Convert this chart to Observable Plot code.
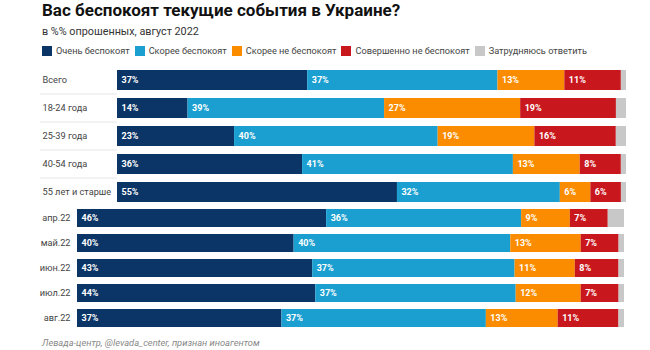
<!DOCTYPE html>
<html>
<head>
<meta charset="utf-8">
<script src="https://cdn.jsdelivr.net/npm/d3@7"></script>
<script src="https://cdn.jsdelivr.net/npm/@observablehq/plot@0.6"></script>
<style>
  html, body { margin: 0; padding: 0; background: #fff; }
  body { width: 650px; height: 350px; position: relative; overflow: hidden; font-family: Roboto, sans-serif; }
  #title { position: absolute; left: 42px; top: 0px; line-height: 20px; font-size: 17px; font-weight: 700; color: #111; white-space: nowrap; }
  #subtitle { position: absolute; left: 42px; top: 25px; line-height: 14px; font-size: 10.8px; color: #333; white-space: nowrap; }
  #legend { position: absolute; left: 42px; top: 45px; line-height: 12px; font-size: 9.2px; color: #444; white-space: nowrap; display: flex; }
  #legend .item { display: flex; align-items: center; margin-right: 5px; }
  #legend .sw { width: 10px; height: 10px; margin-right: 4px; display: inline-block; }
  #top { position: absolute; left: 0; top: 64px; }
  #bottom { position: absolute; left: 0; top: 205px; }
  #caption { position: absolute; left: 42px; top: 337px; line-height: 12px; font-size: 9.3px; font-style: italic; color: #888; white-space: nowrap; }
</style>
</head>
<body>
<div id="title">Вас беспокоят текущие события в Украине?</div>
<div id="subtitle">в %% опрошенных, август 2022</div>
<div id="legend"></div>
<div id="top"></div>
<div id="bottom"></div>
<div id="caption">Левада-центр, @levada_center, признан иноагентом</div>
<script>
const categories = ["Очень беспокоят", "Скорее беспокоят", "Скорее не беспокоят", "Совершенно не беспокоят", "Затрудняюсь ответить"];
const colors = ["#0b3566", "#1b9fd0", "#fb8c00", "#c8181e", "#c8c8c8"];

const groups = ["Всего", "18-24 года", "25-39 года", "40-54 года", "55 лет и старше"];
const groupVery     = [37, 14, 23, 36, 55];
const groupRather   = [37, 39, 40, 41, 32];
const groupRatherNot= [13, 27, 19, 13, 6];
const groupNotAtAll = [11, 19, 16, 8, 6];
const groupDontKnow = [1, 2, 2, 1, 1];

const months = ["апр.22", "май.22", "июн.22", "июл.22", "авг.22"];
const monthVery     = [46, 40, 43, 44, 37];
const monthRather   = [36, 40, 37, 37, 37];
const monthRatherNot= [9, 13, 11, 12, 13];
const monthNotAtAll = [7, 7, 8, 7, 11];
const monthDontKnow = [3, 1, 1, 1, 1];

function toRows(rows, series) {
  const out = [];
  rows.forEach((r, i) => {
    series.forEach((s, j) => out.push({ row: r, cat: categories[j], value: s[i] }));
  });
  return out;
}
const topData = toRows(groups, [groupVery, groupRather, groupRatherNot, groupNotAtAll, groupDontKnow]);
const botData = toRows(months, [monthVery, monthRather, monthRatherNot, monthNotAtAll, monthDontKnow]);

// legend
const leg = document.getElementById("legend");
categories.forEach((c, i) => {
  const it = document.createElement("span");
  it.className = "item";
  it.innerHTML = `<span class="sw" style="background:${colors[i]}"></span>${c}`;
  leg.appendChild(it);
});

const color = { domain: categories, range: colors };
const labelText = d => d.cat === categories[4] ? "" : d.value + "%";

function barMarks(data) {
  return [
    Plot.barX(data, Plot.stackX({ x: "value", y: "row", z: "cat", fill: "cat", order: categories, offset: "normalize" })),
    Plot.text(data, Plot.stackX1({ x: "value", y: "row", z: "cat", order: categories, offset: "normalize",
      text: labelText, textAnchor: "start", dx: 4, fill: "white", fontWeight: 700, fontSize: 9 }))
  ];
}

const topPlot = Plot.plot({
  width: 650, height: 144,
  marginLeft: 117, marginRight: 24, marginTop: 0, marginBottom: 0,
  style: { fontFamily: "Roboto, sans-serif", overflow: "visible" },
  x: { domain: [0, 1], axis: null },
  y: { domain: groups, axis: null, paddingInner: 0.3, paddingOuter: 0.15 },
  color,
  marks: [
    ...barMarks(topData),
    Plot.text(groups, { y: d => d, text: d => d, frameAnchor: "left", textAnchor: "start", dx: -75, fontSize: 9.2, fill: "#444" })
  ]
});
document.getElementById("top").appendChild(topPlot);

// faint separators between group rows, in the label area
{
  const y = topPlot.scale("y");
  const svg = d3.select(topPlot);
  const step = y.step;
  groups.slice(1).forEach(g => {
    const yy = y.apply(g) - (step - y.bandwidth) / 2;
    svg.append("line").attr("x1", 40).attr("x2", 117).attr("y1", yy).attr("y2", yy)
      .attr("stroke", "#e6e6e6").attr("stroke-width", 1);
  });
}

const botPlot = Plot.plot({
  width: 650, height: 126,
  marginLeft: 77, marginRight: 26, marginTop: 0, marginBottom: 0,
  style: { fontFamily: "Roboto, sans-serif", overflow: "visible" },
  x: { domain: [0, 1], axis: null },
  y: { domain: months, paddingInner: 0.29, paddingOuter: 0.145, label: null },
  color,
  marks: [
    ...barMarks(botData),
    Plot.axisY({ tickSize: 0, tickPadding: 7, fontSize: 9.2, color: "#444", label: null })
  ]
});
document.getElementById("bottom").appendChild(botPlot);
</script>
</body>
</html>
